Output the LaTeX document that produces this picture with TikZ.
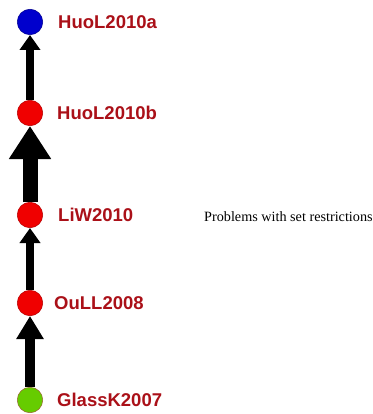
\documentclass[tikz,border=0pt]{standalone}
\usepackage{fontspec}
\setmainfont{Liberation Serif}
\newfontfamily\labelfont{Liberation Sans}
\usetikzlibrary{arrows.meta}
\definecolor{nodeblue}{RGB}{0,0,205}
\definecolor{nodered}{RGB}{240,0,0}
\definecolor{nodegreen}{RGB}{102,204,0}
\definecolor{labelred}{RGB}{170,16,24}
\begin{document}
\begin{tikzpicture}[x=1pt,y=-1pt,
  paper/.style={circle,minimum size=25.5pt,inner sep=0pt,line width=0.5pt},
  bluepaper/.style={paper,fill=nodeblue,draw=nodeblue!70!black},
  redpaper/.style={paper,fill=nodered,draw=nodered!75!black},
  greenpaper/.style={paper,fill=nodegreen,draw=brown!80!black},
  papername/.style={anchor=west,inner sep=0pt,text=labelred,
    font=\labelfont\bfseries\fontsize{18.5}{20}\selectfont},
  link/.style={draw=black,line cap=butt}
]
\useasboundingbox (0,0) rectangle (372,414);

% papers, oldest at the bottom
\node[bluepaper]  (a) at (30,22)  {};
\node[redpaper]   (b) at (30,113) {};
\node[redpaper]   (c) at (30,215) {};
\node[redpaper]   (d) at (30,303) {};
\node[greenpaper] (e) at (30,400) {};

\node[papername] (la) at (58,22)  {HuoL2010a};
\node[papername] (lb) at (57,113) {HuoL2010b};
\node[papername] (lc) at (58,215) {LiW2010};
\node[papername] (ld) at (54,303) {OuLL2008};
\node[papername] (le) at (57,400) {GlassK2007};

% extension links
\draw[link,line width=8pt,-{Triangle[width=20pt,length=15pt]}]  (b) -- (a);
\draw[link,line width=15pt,-{Triangle[width=40pt,length=33pt]}] (c) -- (b);
\draw[link,line width=7.5pt,-{Triangle[width=20pt,length=15pt]}] (d) -- (c);
\draw[link,line width=10pt,-{Triangle[width=26pt,length=23pt]}] (e) -- (d);

\node[anchor=west,inner sep=0pt,font=\fontsize{14.2}{16}\selectfont] (topic) at (204,217) {Problems with set restrictions};
\end{tikzpicture}
\end{document}
